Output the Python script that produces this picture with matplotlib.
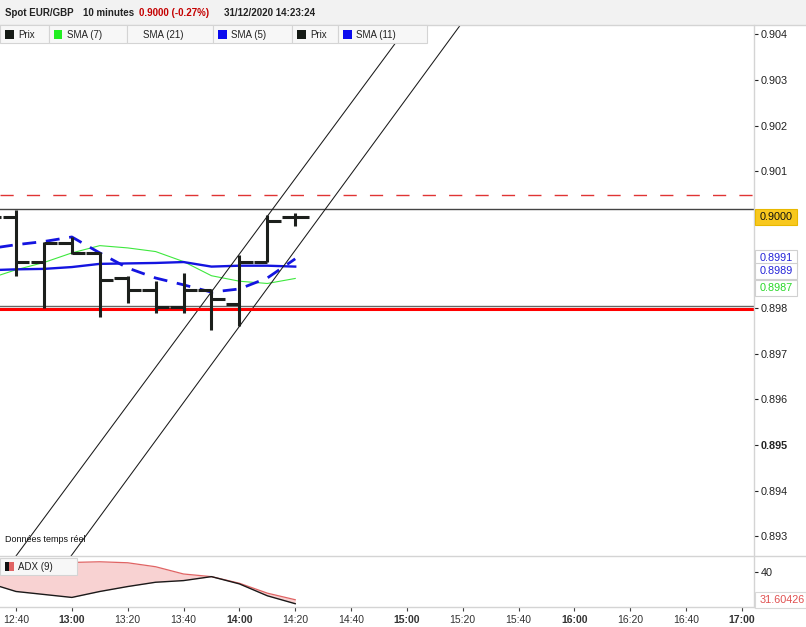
import numpy as np
import matplotlib
matplotlib.use("Agg")
import matplotlib.pyplot as plt
from matplotlib.patches import Rectangle
from matplotlib.lines import Line2D

plt.rcParams["font.family"] = ["Liberation Sans", "DejaVu Sans"]

W, H = 806, 627

# bar times in minutes after 12:00 (10 minute bars)
bar_times = [30, 40, 50, 60, 70, 80, 90, 100, 110, 120, 130, 140]
bar_open = [0.90010, 0.90000, 0.89900, 0.89943, 0.89921, 0.89866, 0.89840, 0.89803, 0.89840, 0.89808, 0.89900, 0.90000]
bar_high = [0.90020, 0.90016, 0.89946, 0.89957, 0.89924, 0.89870, 0.89859, 0.89877, 0.89842, 0.89917, 0.90004, 0.90008]
bar_low = [0.89990, 0.89870, 0.89800, 0.89918, 0.89780, 0.89811, 0.89789, 0.89789, 0.89753, 0.89760, 0.89900, 0.89980]
bar_close = [0.90000, 0.89900, 0.89943, 0.89921, 0.89861, 0.89840, 0.89803, 0.89840, 0.89821, 0.89900, 0.89990, 0.90000]

sma7 = [0.89864, 0.89884, 0.89900, 0.89921, 0.89937, 0.89932, 0.89924, 0.89902, 0.89871, 0.89859, 0.89854, 0.89865]
sma11 = [0.89883, 0.89885, 0.89886, 0.89890, 0.89897, 0.89898, 0.89899, 0.89901, 0.89891, 0.89893, 0.89893, 0.89891]
sma5 = [0.89930, 0.89939, 0.89946, 0.89956, 0.89921, 0.89888, 0.89866, 0.89851, 0.89835, 0.89842, 0.89866, 0.89908]

adx_red = [42.7, 42.7, 42.8, 42.9, 43.1, 42.8, 41.6, 39.4, 38.6, 36.6, 33.6, 31.60426]
adx_black = [36.7, 34.1, 33.2, 32.3, 34.1, 35.6, 36.9, 37.4, 38.6, 36.4, 32.8, 30.4]

# trend channel anchors (minutes, price)
chan_a = [(40.25, 0.892585), (175.84, 0.903807)]
chan_b = [(59.96, 0.892585), (199.14, 0.904208)]

level_dash = 0.90048
level_top = 0.90017
level_gray = 0.89804
level_red = 0.89797

last_price = 0.9000
sma_labels = [("0.8991", 0.89910, "#2424d8"), ("0.8987", 0.8987, "#28d828"), ("0.8989", 0.8989, "#2424d8")]
sma_label_shift = [0, 11.5, 4]   # px pushed down to avoid overlap

ytick_vals = [0.893, 0.894, 0.895, 0.896, 0.897, 0.898, 0.899, 0.900, 0.901, 0.902, 0.903, 0.904]
xtick_vals = list(range(40, 301, 20))
xtick_labels = ["12:40", "13:00", "13:20", "13:40", "14:00", "14:20", "14:40",
                "15:00", "15:20", "15:40", "16:00", "16:20", "16:40", "17:00"]

legend_cells = [(0, 49, "Prix", "#151a15"), (49, 127, "SMA (7)", "#22ee22"),
                (127, 213, "SMA (21)", None), (213, 292, "SMA (5)", "#0a0aee"),
                (292, 338, "Prix", "#151a15"), (338, 427, "SMA (11)", "#0a0aee")]


def fx(px):
    return px / W


def fy(py):
    return 1 - py / H


fig = plt.figure(figsize=(W / 100, H / 100), dpi=100)
fig.patch.set_facecolor("white")

ax = fig.add_axes([0, fy(556), fx(754), (556 - 25) / H])
ax2 = fig.add_axes([0, fy(607), fx(754), (607 - 556) / H])

t = np.array(bar_times)

# price bars
bar_kw = dict(color="#1c1f1c", lw=2.2, zorder=4)
ax.vlines(t, bar_low, bar_high, **bar_kw)
ax.hlines(bar_open, t - 4.8, t, **bar_kw)
ax.hlines(bar_close, t, t + 4.8, **bar_kw)

ax.plot(t, sma7, color="#3ee83e", lw=0.8, zorder=2)
ax.plot(t, sma11, color="#1414e0", lw=1.7, zorder=2)
ax.plot(t, sma5, color="#1414e0", lw=2.0, dashes=(5, 3.5), zorder=2)

ax.axhline(level_dash, color="#e03434", lw=1.0, dashes=(9.5, 9.5))
ax.axhline(level_top, color="#444444", lw=1.0)
ax.axhline(level_gray, color="#666666", lw=1.0)
ax.axhline(level_red, color="#ff0000", lw=2.2, zorder=3)

ax.axline(chan_a[0], chan_a[1], color="#1a1a1a", lw=0.75)
ax.axline(chan_b[0], chan_b[1], color="#1a1a1a", lw=0.75)

ax.set_xlim(34.27, 304.3)
ax.set_ylim(0.892564, 0.904208)
ax.set_yticks(ytick_vals)
# 0.899 / 0.900 sit under the value boxes, so their labels stay empty
ax.set_yticklabels(["" if 0.8985 < v < 0.9005 else f"{v:.3f}" for v in ytick_vals])
ax.tick_params(axis="y", left=False, labelleft=False, right=True, labelright=True,
               length=3, width=0.8, pad=2, labelsize=7.8, colors="#222222")
for lab, v in zip(ax.get_yticklabels(), ytick_vals):
    if abs(v - 0.895) < 1e-6:
        lab.set_fontweight("bold")
ax.tick_params(axis="x", bottom=False, labelbottom=False)
for sp in ax.spines.values():
    sp.set_visible(False)

# ADX panel
ax2.fill_between(t, adx_black, adx_red, where=np.array(adx_red) >= np.array(adx_black),
                 interpolate=True, color="#f8d2d2", lw=0)
ax2.plot(t, adx_red, color="#e06464", lw=0.9)
ax2.plot(t, adx_black, color="#1a1a1a", lw=1.0)
ax2.set_xlim(34.27, 304.3)
ax2.set_ylim(29.4, 44.85)
ax2.set_yticks([40])
ax2.set_yticklabels(["40"])
ax2.tick_params(axis="y", left=False, labelleft=False, right=True, labelright=True,
                length=3, width=0.8, pad=2, labelsize=7.8, colors="#222222")
ax2.set_xticks(xtick_vals)
ax2.set_xticklabels(xtick_labels)
ax2.tick_params(axis="x", length=3, width=0.8, pad=3, labelsize=7.5,
                colors="#444444", labelcolor="#333333")
for lab in ax2.get_xticklabels():
    if lab.get_text().endswith(":00"):
        lab.set_fontweight("bold")
for sp in ax2.spines.values():
    sp.set_visible(False)

# frame lines
grid_c = "#d4d4d4"
fig.patches.append(Rectangle((0, fy(25)), 1, 25 / H, transform=fig.transFigure,
                             fc="#f2f2f2", ec="none", zorder=5))
for py in (25, 556, 607):
    fig.lines.append(Line2D([0, 1], [fy(py), fy(py)], transform=fig.transFigure,
                            color=grid_c, lw=1, zorder=6))
fig.lines.append(Line2D([fx(754), fx(754)], [fy(25), fy(607)], transform=fig.transFigure,
                        color=grid_c, lw=1, zorder=6))

# header
hy = fy(13)
fig.text(fx(5), hy, "Spot EUR/GBP", fontsize=7, fontweight="bold", color="#222222", va="center", zorder=7)
fig.text(fx(83), hy, "10 minutes", fontsize=7, fontweight="bold", color="#222222", va="center", zorder=7)
fig.text(fx(139), hy, "0.9000 (-0.27%)", fontsize=7, fontweight="bold", color="#c40000", va="center", zorder=7)
fig.text(fx(224), hy, "31/12/2020 14:23:24", fontsize=7, fontweight="bold", color="#222222", va="center", zorder=7)

# legend row
for x0, x1, name, col in legend_cells:
    fig.patches.append(Rectangle((fx(x0), fy(42.5)), fx(x1 - x0), 17.5 / H, transform=fig.transFigure,
                                 fc="#f7f7f7", ec=grid_c, lw=0.8, zorder=6))
    if col is not None:
        fig.patches.append(Rectangle((fx(x0 + 5), fy(38.5)), fx(8.5), 8.5 / H, transform=fig.transFigure,
                                     fc=col, ec="none", zorder=7))
        tx = x0 + 18
    else:
        tx = x0 + 16
    fig.text(fx(tx), fy(34.5), name, fontsize=7, color="#222222", va="center", zorder=7)

fig.text(fx(5), fy(539), "Données temps réel", fontsize=6.5, color="#111111", va="center", zorder=7)

# ADX legend
fig.patches.append(Rectangle((0, fy(575)), fx(77), 17 / H, transform=fig.transFigure,
                             fc="#f7f7f7", ec=grid_c, lw=0.8, zorder=6))
fig.patches.append(Rectangle((fx(5), fy(571)), fx(4), 9 / H, transform=fig.transFigure,
                             fc="#111111", ec="none", zorder=7))
fig.patches.append(Rectangle((fx(9), fy(571)), fx(4.5), 9 / H, transform=fig.transFigure,
                             fc="#e06464", ec="none", zorder=7))
fig.text(fx(18), fy(566.5), "ADX (9)", fontsize=7, color="#222222", va="center", zorder=7)


# right-side value labels, later ones stacked on top of earlier ones
def value_box(axis, value, text, fc, ec, tc, z, shift=0, x1=797):
    yd = axis.transData.transform((0, value))[1]
    py = H - yd + shift
    fig.patches.append(Rectangle((fx(755), fy(py + 8)), fx(x1 - 755), 16 / H, transform=fig.transFigure,
                                 fc=fc, ec=ec, lw=0.8, zorder=z))
    fig.text(fx(759.5), fy(py), text, fontsize=7.8, color=tc, va="center", zorder=z + 0.5)


value_box(ax, last_price, f"{last_price:.4f}", "#f8c81e", "#e8b800", "#111111", 8)
for i, ((txt, val, col), sh) in enumerate(zip(sma_labels, sma_label_shift)):
    value_box(ax, val, txt, "white", "#d0d0d0", col, 9 + i, shift=sh)
value_box(ax2, adx_red[-1], f"{adx_red[-1]:.5f}", "white", "#d8d8d8", "#e05050", 8, x1=806)

fig.savefig("out.png", dpi=100)
